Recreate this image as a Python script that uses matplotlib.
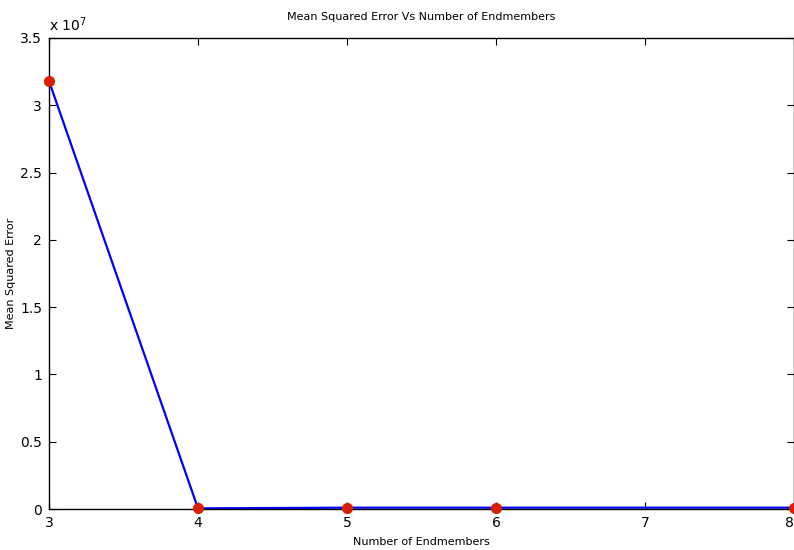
import matplotlib
matplotlib.use("Agg")
import matplotlib.pyplot as plt

endmembers = [3, 4, 5, 6, 7, 8]
mse = [3.18e7, 0.5e5, 1.0e5, 1.0e5, 1.0e5, 1.0e5]
marker_x = [3, 4, 5, 6, 8]
marker_y = [3.18e7, 0.5e5, 1.0e5, 1.0e5, 1.0e5]
yticks = [0, 0.5, 1, 1.5, 2, 2.5, 3, 3.5]
xticklabels = ['3', '4', '5', '6', '7', '8']

plt.rcParams['font.family'] = ['DejaVu Sans']

fig = plt.figure(figsize=(7.94, 5.50), dpi=100)
ax = fig.add_axes([0.0617, 0.0745, 0.9383, 0.8565])
ax.plot(endmembers, mse, color='#0000ff', linewidth=1.6, zorder=2)
ax.plot(marker_x, marker_y, 'o', color='#d62000', markersize=7, zorder=3, clip_on=False)
ax.set_xlim(3, 8)
ax.set_ylim(0, 3.5e7)
ax.set_xticks(endmembers)
ax.set_xticklabels(xticklabels)
ax.get_xticklabels()[-1].set_horizontalalignment('right')
ax.set_yticks([v * 1e7 for v in yticks])
ax.set_yticklabels(['0', '0.5', '1', '1.5', '2', '2.5', '3', '3.5'])
ax.tick_params(direction='in', length=5, labelsize=10, top=True, right=True, width=0.8, pad=5)
for s in ax.spines.values():
    s.set_linewidth(1.0)
ax.set_title('Mean Squared Error Vs Number of Endmembers', fontsize=8, pad=13)
ax.set_xlabel('Number of Endmembers', fontsize=8)
ax.xaxis.set_label_coords(0.5, -0.06)
ax.set_ylabel('Mean Squared Error', fontsize=8)
ax.yaxis.set_label_coords(-0.044, 0.5)
ax.text(0.0, 1.008, r'x 10$^7$', transform=ax.transAxes, fontsize=10, ha='left', va='bottom')
fig.savefig('out.png', dpi=100)
